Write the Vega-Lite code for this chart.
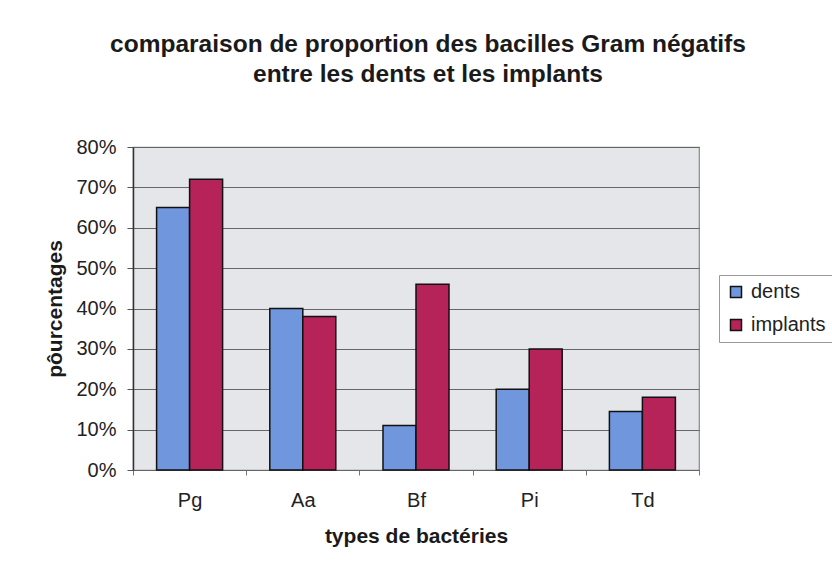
{
  "$schema": "https://vega.github.io/schema/vega-lite/v6.json",
  "autosize": "none",
  "width": 566,
  "height": 323,
  "padding": {"left": 133, "top": 147, "right": 133, "bottom": 102},
  "background": "white",
  "title": {
    "text": ["comparaison de proportion des bacilles Gram négatifs", "entre les dents et les implants"],
    "font": "Liberation Sans",
    "fontSize": 24.5,
    "fontWeight": "bold",
    "color": "#1a1a1a",
    "lineHeight": 30,
    "anchor": "middle",
    "dx": 12,
    "offset": 50
  },
  "data": {
    "values": [
      {"type": "Pg", "groupe": "dents", "valeur": 0.65},
      {"type": "Pg", "groupe": "implants", "valeur": 0.72},
      {"type": "Aa", "groupe": "dents", "valeur": 0.40},
      {"type": "Aa", "groupe": "implants", "valeur": 0.38},
      {"type": "Bf", "groupe": "dents", "valeur": 0.11},
      {"type": "Bf", "groupe": "implants", "valeur": 0.46},
      {"type": "Pi", "groupe": "dents", "valeur": 0.20},
      {"type": "Pi", "groupe": "implants", "valeur": 0.30},
      {"type": "Td", "groupe": "dents", "valeur": 0.145},
      {"type": "Td", "groupe": "implants", "valeur": 0.18}
    ]
  },
  "mark": {"type": "bar", "stroke": "#111111", "strokeWidth": 1.5},
  "encoding": {
    "x": {
      "field": "type",
      "type": "nominal",
      "sort": ["Pg", "Aa", "Bf", "Pi", "Td"],
      "scale": {"paddingInner": 0, "paddingOuter": 0},
      "title": "types de bactéries",
      "axis": {
        "labelAngle": 0,
        "tickBand": "extent",
        "tickSize": 5,
        "tickColor": "#777777",
        "domainColor": "#666666",
        "labelPadding": 15,
        "titlePadding": 15
      }
    },
    "xOffset": {
      "field": "groupe",
      "type": "nominal",
      "scale": {"paddingOuter": 0.715, "paddingInner": 0}
    },
    "y": {
      "field": "valeur",
      "type": "quantitative",
      "scale": {"domain": [0, 0.8]},
      "title": "pôurcentages",
      "axis": {
        "values": [0, 0.1, 0.2, 0.3, 0.4, 0.5, 0.6, 0.7, 0.8],
        "format": ".0%",
        "tickSize": 6,
        "tickColor": "#555555",
        "domainColor": "#333333",
        "domainWidth": 1.5,
        "gridColor": "#666666",
        "gridWidth": 1.2,
        "labelPadding": 11,
        "titlePadding": 10
      }
    },
    "color": {
      "field": "groupe",
      "type": "nominal",
      "scale": {"domain": ["dents", "implants"], "range": ["#7096DE", "#B52358"]},
      "legend": {
        "title": null,
        "orient": "none",
        "legendX": 586,
        "legendY": 128,
        "padding": 7,
        "strokeColor": "#999999",
        "fillColor": "white",
        "symbolType": "square",
        "symbolSize": 121,
        "symbolStrokeColor": "#111111",
        "symbolStrokeWidth": 1.5,
        "labelOffset": 5,
        "rowPadding": 13,
        "labelFontSize": 20
      }
    }
  },
  "config": {
    "font": "Liberation Sans",
    "view": {"fill": "#E4E6E9", "stroke": "#888888", "strokeWidth": 1.2},
    "axis": {
      "labelFont": "Liberation Sans",
      "labelFontSize": 20,
      "labelColor": "#222222",
      "titleFont": "Liberation Sans",
      "titleFontSize": 21,
      "titleFontWeight": "bold",
      "titleColor": "#1a1a1a",
      "grid": true
    },
    "axisX": {"grid": false},
    "legend": {"labelFont": "Liberation Sans", "labelColor": "#222222"}
  }
}
